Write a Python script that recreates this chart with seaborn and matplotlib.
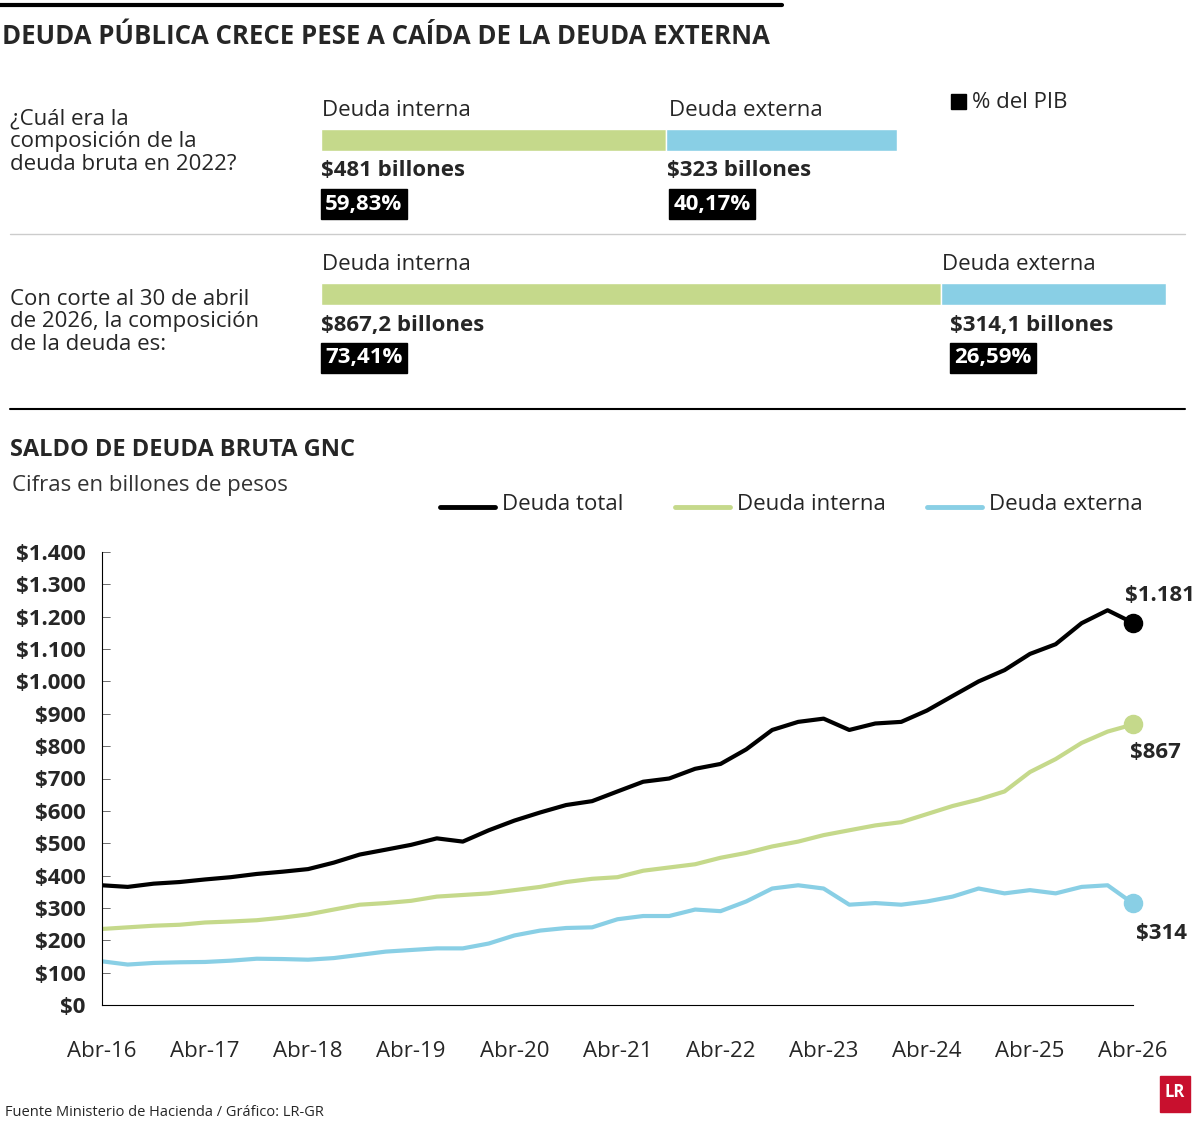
import matplotlib
matplotlib.use("Agg")
import matplotlib.pyplot as plt
import seaborn as sns
import pandas as pd
import numpy as np

sns.set_style("white")
plt.rcParams['font.family'] = ['Open Sans', 'DejaVu Sans']

GREEN = "#c5d98b"
BLUE = "#89cfe5"

comp_labels = ["2022", "2026"]
interna_vals = [481, 867.2]
externa_vals = [323, 314.1]
interna_txt = ["$481 billones", "$867,2 billones"]
externa_txt = ["$323 billones", "$314,1 billones"]
interna_pct = ["59,83%", "73,41%"]
externa_pct = ["40,17%", "26,59%"]

dates = pd.date_range("2016-04-01", "2026-04-01", freq="3MS")
total = [370, 365, 375, 380, 388, 395, 405, 412, 420, 440, 465, 480, 495, 515, 505, 540,
         570, 595, 618, 630, 660, 690, 700, 730, 745, 790, 850, 875, 885, 850, 870, 875,
         910, 955, 1000, 1035, 1085, 1115, 1180, 1220, 1181]
interna = [235, 240, 245, 248, 255, 258, 262, 270, 280, 295, 310, 315, 322, 335, 340, 345,
           355, 365, 380, 390, 395, 415, 425, 435, 455, 470, 490, 505, 525, 540, 555, 565,
           590, 615, 635, 660, 720, 760, 810, 845, 867]
externa = [135, 125, 130, 132, 133, 137, 143, 142, 140, 145, 155, 165, 170, 175, 175, 190,
           215, 230, 238, 240, 265, 275, 275, 295, 290, 320, 360, 370, 360, 310, 315, 310,
           320, 335, 360, 345, 355, 345, 365, 370, 314]
xtick_labels = ["Abr-16", "Abr-17", "Abr-18", "Abr-19", "Abr-20", "Abr-21", "Abr-22",
                "Abr-23", "Abr-24", "Abr-25", "Abr-26"]
ytick_vals = list(range(0, 1401, 100))

W, H = 1200, 1127
fig = plt.figure(figsize=(12, 11.27), dpi=100)

def fx(x): return x / W
def fy(y): return 1 - y / H

# header
fig.add_artist(plt.Line2D([0, fx(782)], [fy(5), fy(5)], color="black", lw=3))
fig.text(fx(2), fy(36), "DEUDA PÚBLICA CRECE PESE A CAÍDA DE LA DEUDA EXTERNA",
         fontsize=18.5, fontweight="bold", va="center")
fig.text(fx(10), fy(142), "¿Cuál era la\ncomposición de la\ndeuda bruta en 2022?",
         fontsize=16, va="center", linespacing=1.1)
fig.text(fx(10), fy(322), "Con corte al 30 de abril\nde 2026, la composición\nde la deuda es:",
         fontsize=16, va="center", linespacing=1.1)
fig.add_artist(plt.Rectangle((fx(951), fy(109)), fx(15), 15 / H, color="black"))
fig.text(fx(972), fy(102), "% del PIB", fontsize=16, va="center")
fig.add_artist(plt.Line2D([fx(10), fx(1185)], [fy(234), fy(234)], color="#cccccc", lw=1))
fig.add_artist(plt.Line2D([fx(10), fx(1185)], [fy(409), fy(409)], color="black", lw=1.5))

# composition bars
bar_rows = [(140, 321, 897), (294, 321, 1166)]
for i, (yc, x0, x1) in enumerate(bar_rows):
    ax = fig.add_axes([fx(x0), fy(yc + 11), fx(x1 - x0), 22 / H])
    tot = interna_vals[i] + externa_vals[i]
    ax.barh([0], [interna_vals[i]], color=GREEN, height=1)
    ax.barh([0], [externa_vals[i]], left=[interna_vals[i]], color=BLUE, height=1)
    ax.set_xlim(0, tot); ax.set_ylim(-0.5, 0.5); ax.axis("off")
    split = x0 + (x1 - x0) * interna_vals[i] / tot
    fig.text(fx(x0 + 1), fy(yc - 30), "Deuda interna", fontsize=16, va="center")
    ex_x = split + (3 if i == 0 else 1)
    fig.text(fx(ex_x), fy(yc - 30), "Deuda externa", fontsize=16, va="center")
    fig.text(fx(x0), fy(yc + 31), interna_txt[i], fontsize=16, fontweight="bold", va="center")
    fig.text(fx(split + (1 if i == 0 else 9)), fy(yc + 31), externa_txt[i], fontsize=16,
             fontweight="bold", va="center")
    bb = dict(boxstyle="square,pad=0.2", fc="black", ec="black")
    fig.text(fx(x0 + 4), fy(yc + 64), interna_pct[i], fontsize=16, fontweight="bold",
             color="white", va="center", bbox=bb)
    fig.text(fx(split + (8 if i == 0 else 13)), fy(yc + 64), externa_pct[i], fontsize=16,
             fontweight="bold", color="white", va="center", bbox=bb)

# line chart
fig.text(fx(10), fy(450), "SALDO DE DEUDA BRUTA GNC", fontsize=17, fontweight="bold", va="center")
fig.text(fx(12), fy(485), "Cifras en billones de pesos", fontsize=16, va="center", color="#333333")

df = pd.DataFrame({"fecha": list(dates) * 3,
                   "valor": total + interna + externa,
                   "serie": ["Deuda total"] * len(dates) + ["Deuda interna"] * len(dates)
                            + ["Deuda externa"] * len(dates)})
pal = {"Deuda total": "black", "Deuda interna": GREEN, "Deuda externa": BLUE}
ax = fig.add_axes([fx(102), fy(1005), fx(1031), 453 / H])
sns.lineplot(data=df, x="fecha", y="valor", hue="serie", palette=pal, lw=3, ax=ax, legend=False)
ax.set_ylim(0, 1400)
ax.set_xlim(dates[0], dates[-1])
ax.set_yticks(ytick_vals)
ax.set_yticklabels([("$" + f"{v:,}".replace(",", ".")) for v in ytick_vals],
                   fontsize=16, fontweight="bold")
xt = pd.date_range("2016-04-01", "2026-04-01", freq="12MS")
ax.set_xticks(xt)
ax.set_xticklabels(xtick_labels, fontsize=16)
ax.tick_params(axis="x", length=24, width=1, direction="out", pad=2, color="#555555")
ax.tick_params(axis="y", length=0, pad=12)
for s in ["top", "right"]:
    ax.spines[s].set_visible(False)
ax.spines["left"].set_color("black"); ax.spines["bottom"].set_color("black")
ax.set_xlabel(""); ax.set_ylabel("")
for v in ytick_vals:
    ax.axhline(v, color="black", lw=0.4, xmax=0.008)

# end points & labels
ends = [(total[-1], "black", "$1.181", -6, 20), (interna[-1], GREEN, "$867", -2, -20),
        (externa[-1], BLUE, "$314", 2, -22)]
for val, col, lab, dx, dy in ends:
    ax.scatter([dates[-1]], [val], s=170, color=col, zorder=5, clip_on=False)
    ax.annotate(lab, (dates[-1], val), xytext=(dx, dy), textcoords="offset points",
                fontsize=16, fontweight="bold", ha="left", va="center")

# legend
for x0, col, lab in [(440, "black", "Deuda total"), (675, GREEN, "Deuda interna"),
                     (927, BLUE, "Deuda externa")]:
    fig.add_artist(plt.Line2D([fx(x0), fx(x0 + 55)], [fy(507), fy(507)], color=col, lw=3.5))
    fig.text(fx(x0 + 62), fy(505), lab, fontsize=16, va="center")

fig.text(fx(5), fy(1113), "Fuente Ministerio de Hacienda / Gráfico: LR-GR", fontsize=10.5, va="center")
fig.add_artist(plt.Rectangle((fx(1160), fy(1112)), fx(30), 36 / H, color="#c8102e"))
fig.text(fx(1175), fy(1092), "LR", fontsize=12, fontweight="bold", color="white",
         ha="center", va="center")

fig.savefig("out.png", dpi=100)
